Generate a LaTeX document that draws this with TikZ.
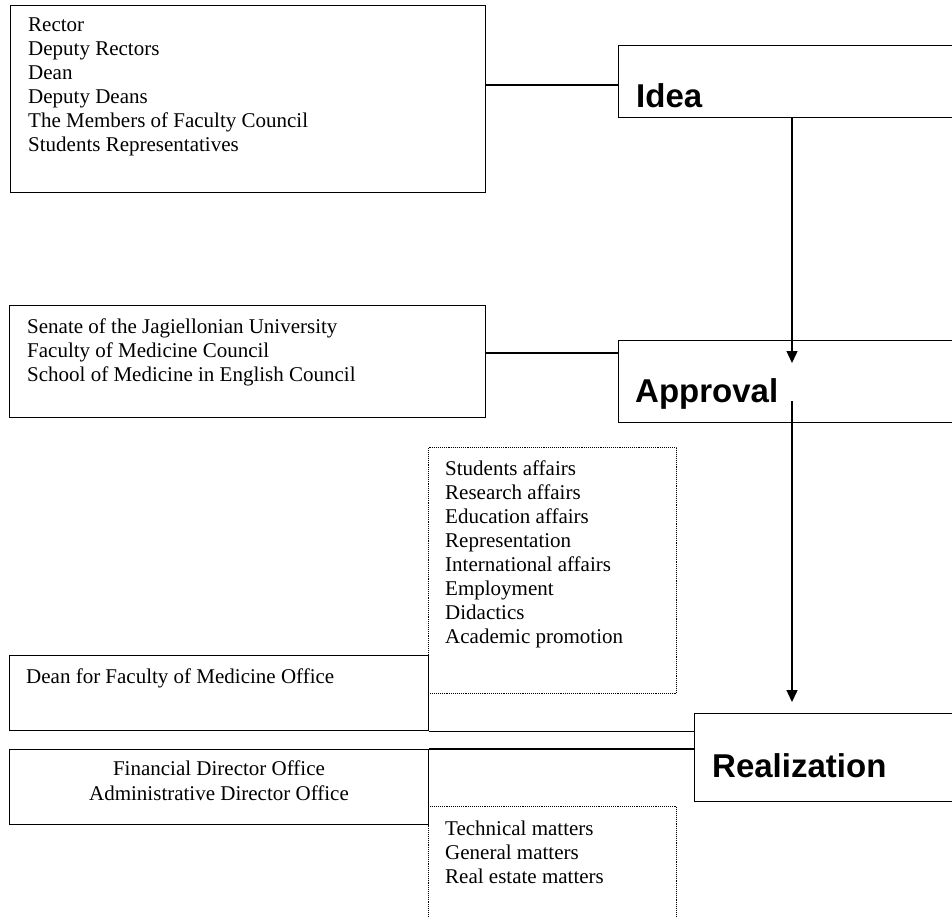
\documentclass[tikz,border=0pt]{standalone}
\usepackage{fontspec}
\setmainfont{Liberation Serif}
\newfontfamily\headfont{Liberation Sans}
\usetikzlibrary{arrows.meta,calc}
\tikzset{
  box/.style={draw,line width=1.4pt,rectangle,anchor=north west,inner sep=0pt},
  dotbox/.style={draw,line width=0.9pt,densely dotted,rectangle,anchor=north west,inner sep=0pt},
  txt/.style={anchor=base west,inner sep=0pt,font=\fontsize{21}{24}\selectfont},
  head/.style={anchor=base west,inner sep=0pt,font=\headfont\bfseries\fontsize{33}{38}\selectfont},
  conn/.style={line width=1.4pt},
  arr/.style={line width=1.4pt,-{Triangle[width=11pt,length=12pt]}}
}
\newcommand{\stacklines}[1]{\begin{tabular}[t]{@{}l@{}}#1\end{tabular}}
\begin{document}
\begin{tikzpicture}[x=1pt,y=-1pt]
\useasboundingbox (0,0) rectangle (952,917);
\clip (0,0) rectangle (952,917);
% dotted boxes
\node[dotbox,minimum width=248pt,minimum height=246pt] (dot1) at (428,447) {};
\node[dotbox,minimum width=248pt,minimum height=130pt] (dot2) at (428,806) {};
% solid boxes
\node[box,minimum width=475pt,minimum height=187pt] (box1) at (10,5) {};
\node[box,minimum width=400pt,minimum height=72pt] (idea) at (618,45) {};
\node[box,minimum width=476pt,minimum height=112pt] (senate) at (9,305) {};
\node[box,minimum width=400pt,minimum height=82pt] (appr) at (618,340) {};
\node[box,minimum width=419pt,minimum height=75pt] (dean) at (9,655) {};
\node[box,minimum width=419pt,minimum height=75pt] (fin) at (9,749) {};
\node[box,minimum width=400pt,minimum height=88pt] (real) at (694,713) {};
% texts
\node[txt] (t1) at (28,32) {\stacklines{Rector\\Deputy Rectors\\Dean\\Deputy Deans\\The Members of Faculty Council\\Students Representatives}};
\node[txt] (t2) at (27,333) {\stacklines{Senate of the Jagiellonian University\\Faculty of Medicine Council\\School of Medicine in English Council}};
\node[txt] (t3) at (445,475) {\stacklines{Students affairs\\Research affairs\\Education affairs\\Representation\\International affairs\\Employment\\Didactics\\Academic promotion}};
\node[txt] (t4) at (26,683) {Dean for Faculty of Medicine Office};
\node[txt,anchor=base] (t5) at (219,775) {Financial Director Office};
\node[txt,anchor=base] (t6) at (219,800) {Administrative Director Office};
\node[txt] (t7) at (445,835) {\stacklines{Technical matters\\General matters\\Real estate matters}};
\node[head] (h1) at (636,108) {Idea};
\node[head] (h2) at (635,402) {Approval};
\node[head] (h3) at (712,777) {Realization};
% connectors
\draw[conn] ([yshift=-40pt]idea.north west) -- ([yshift=-40pt]idea.north west -| box1.east);
\draw[conn] ([yshift=-13pt]appr.north west) -- ([yshift=-13pt]appr.north west -| senate.east);
\draw[conn] (dean.south east) -- (dean.south east -| real.west);
\draw[conn] (fin.north east) -- (fin.north east -| real.west);
\draw[arr] ([xshift=174pt]idea.south west) -- ([xshift=174pt,yshift=-23pt]appr.north west);
\draw[arr] ([xshift=174pt,yshift=22pt]appr.south west) -- ([xshift=98pt,yshift=11pt]real.north west);
\end{tikzpicture}
\end{document}
